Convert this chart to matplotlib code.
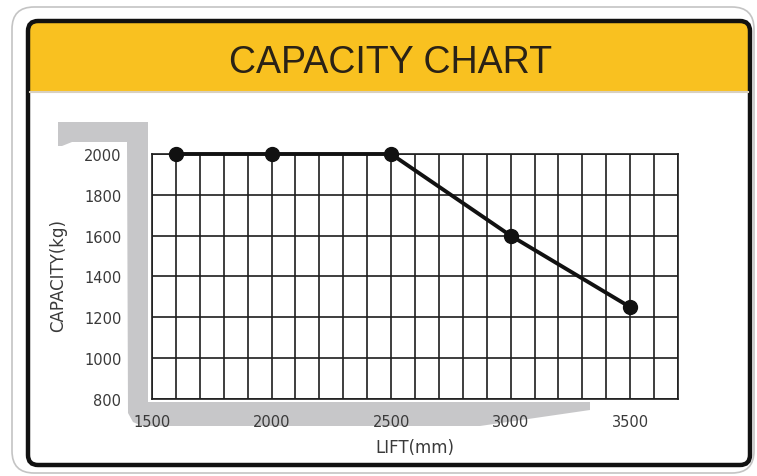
import matplotlib
matplotlib.use('Agg')
import matplotlib.pyplot as plt
from matplotlib.patches import FancyBboxPatch, Rectangle, Polygon
from matplotlib.ticker import MultipleLocator

# capacity chart data
lift = [1600, 2000, 2500, 3000, 3500]
capacity = [2000, 2000, 2000, 1600, 1250]
x_ticks = [1500, 2000, 2500, 3000, 3500]
y_ticks = [800, 1000, 1200, 1400, 1600, 1800, 2000]

W, H = 757, 477
fig = plt.figure(figsize=(W / 100, H / 100), dpi=100)

# background canvas in pixel units (y down)
bg = fig.add_axes([0, 0, 1, 1])
bg.set_xlim(0, W)
bg.set_ylim(H, 0)
bg.axis('off')

# outer thin frame
bg.add_patch(FancyBboxPatch((12, 8), 742, 466,
                            boxstyle='round,pad=0,rounding_size=22',
                            fc='white', ec='#c4c4c4', lw=1.2))
# yellow header
yellow = '#f9c120'
bg.add_patch(FancyBboxPatch((29, 23), 721, 40,
                            boxstyle='round,pad=0,rounding_size=9',
                            fc=yellow, ec='none'))
bg.add_patch(Rectangle((29, 45), 721, 47, fc=yellow, ec='none'))
bg.plot([30, 748], [93, 93], color='#d8d0c0', lw=1.5)
# black frame
bg.add_patch(FancyBboxPatch((28, 22), 722, 444,
                            boxstyle='round,pad=0,rounding_size=10',
                            fc='none', ec='#111111', lw=3.2))

bg.text(391, 63, 'CAPACITY CHART', ha='center', va='center',
        fontsize=27, color='#2a2216',
        family=['Liberation Sans Narrow', 'Liberation Sans'])

# grey bracket behind the grid
gray = '#c7c7c9'
bracket = [(58, 123), (148, 123), (148, 403), (590, 403), (590, 411),
           (480, 427), (142, 427), (133, 423), (128, 414), (127, 143),
           (72, 143), (62, 147), (58, 147)]
bg.add_patch(Polygon(bracket, closed=True, fc=gray, ec='none'))

bg.text(58, 276, 'CAPACITY(kg)', rotation=90, ha='center', va='center',
        fontsize=12, color='#3a3a3a')
bg.text(415, 448, 'LIFT(mm)', ha='center', va='center',
        fontsize=12, color='#3a3a3a')

# grid plot
left, right, top, bottom = 152, 678, 155, 400
ax = fig.add_axes([left / W, 1 - bottom / H, (right - left) / W,
                   (bottom - top) / H])
ax.set_facecolor('white')
ax.set_xlim(1500, 3700)
ax.set_ylim(800, 2000)
ax.set_xticks(x_ticks)
ax.xaxis.set_minor_locator(MultipleLocator(100))
ax.set_yticks(y_ticks)
ax.grid(True, which='both', color='#1e1e1e', lw=1.2)
ax.set_axisbelow(True)
for s in ax.spines.values():
    s.set_color('#1e1e1e')
    s.set_linewidth(1.2)
ax.tick_params(which='both', length=0, labelsize=10.5, colors='#3a3a3a')
ax.tick_params(axis='x', pad=11)
ax.tick_params(axis='y', pad=22)

ax.plot(lift, capacity, color='#111111', lw=2.8, marker='o',
        markersize=10, clip_on=False, zorder=5)

fig.savefig('out.png', dpi=100)
